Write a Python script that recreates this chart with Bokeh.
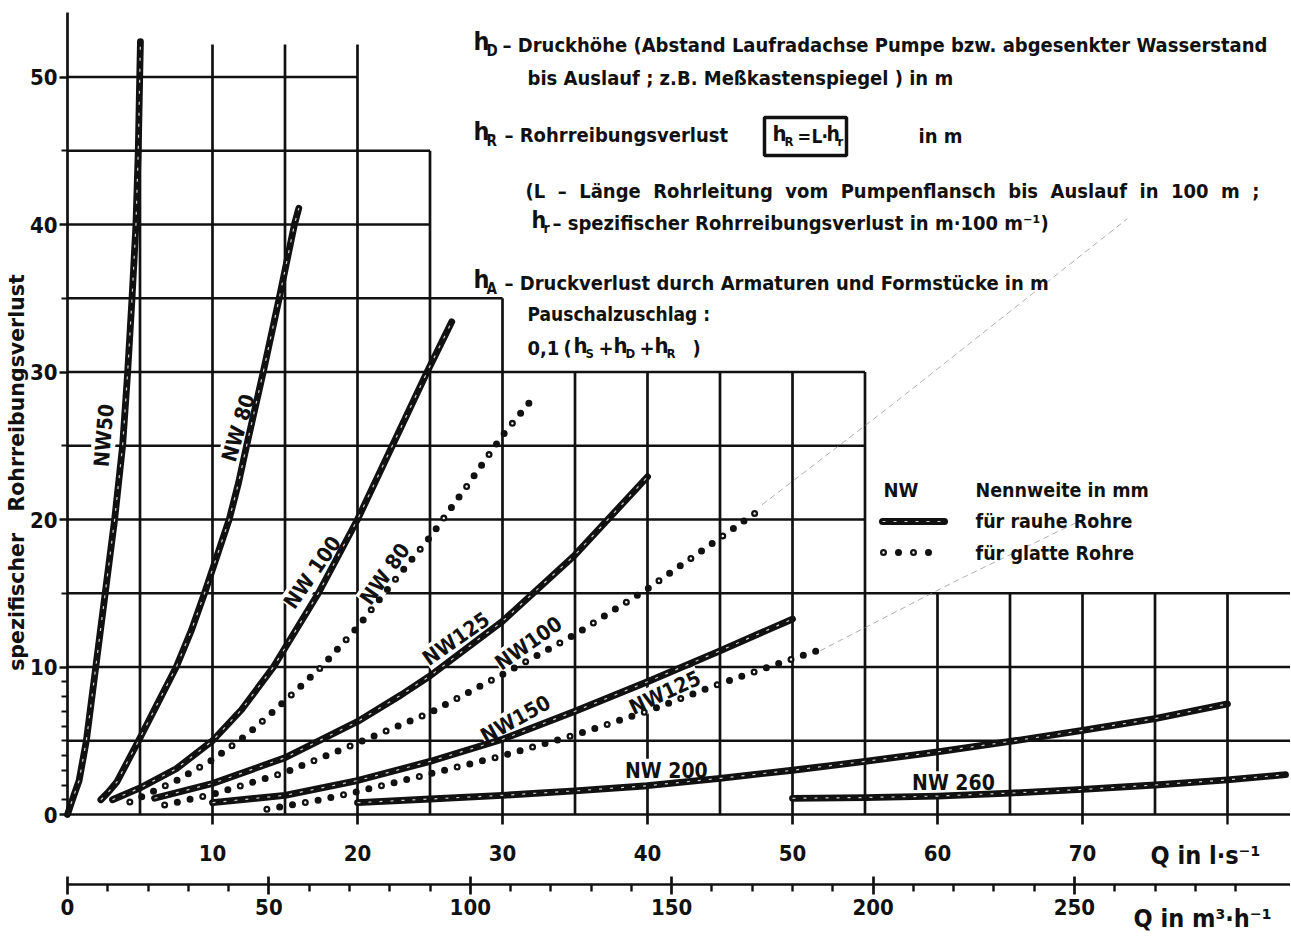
from bokeh.plotting import figure
from bokeh.models import Range1d, LinearAxis, FixedTicker, Label
from bokeh.embed import file_html
from bokeh.resources import INLINE

FONT = "'Liberation Sans Narrow', 'DejaVu Sans Condensed', 'Arial Narrow', sans-serif"
NB = "\u00a0"

# ---------------- data (Q in l/s, h in m per 100 m) ----------------
nw50_rough_q = [0, 0.25, 0.55, 0.8, 1.3, 1.95, 2.6, 3.25, 3.8, 4.15, 4.45, 4.72, 4.88, 4.98, 5.03]
nw50_rough_h = [0, 0.75, 1.6, 2.3, 5, 10, 15, 20, 25, 30, 35, 40, 45, 50, 52.4]

nw80_rough_q = [2.3, 2.8, 3.4, 4.9, 6.2, 7.5, 8.55, 9.45, 11.15, 11.8, 12.35, 13.5, 14.6, 15.65, 15.95]
nw80_rough_h = [1.0, 1.5, 2.2, 5, 7.5, 10, 12.5, 15, 20, 22.5, 25, 30, 35, 40, 41.1]

nw100_rough_q = [3.1, 5, 7.5, 10, 12, 14.2, 17.3, 20, 22.4, 24.8, 26.5]
nw100_rough_h = [1.0, 1.8, 3.1, 5, 7.1, 10, 15, 20, 25, 30, 33.4]

nw125_rough_q = [6.0, 10, 15, 20, 23, 25, 30, 35, 40]
nw125_rough_h = [1.1, 2.1, 3.85, 6.3, 8.1, 9.4, 13.1, 17.6, 22.9]

nw150_rough_q = [10, 15, 20, 25, 30, 35, 40, 45, 50]
nw150_rough_h = [0.8, 1.3, 2.3, 3.6, 5.1, 7.0, 9.0, 11.1, 13.25]

nw200_rough_q = [20, 25, 30, 35, 40, 45, 50, 55, 60, 65, 70, 75, 80]
nw200_rough_h = [0.8, 1.05, 1.3, 1.6, 1.95, 2.45, 3.0, 3.6, 4.25, 4.95, 5.7, 6.5, 7.5]

nw260_rough_q = [50, 55, 60, 65, 70, 75, 80, 84]
nw260_rough_h = [1.1, 1.15, 1.25, 1.45, 1.7, 2.0, 2.35, 2.7]

nw80_smooth_q = [4.3, 5, 7.5, 10, 12.5, 15, 17.5, 20, 22.5, 25, 27.5, 30, 32]
nw80_smooth_h = [0.85, 1.15, 2.3, 3.7, 5.5, 7.7, 10.0, 12.7, 15.8, 18.8, 22.2, 25.7, 28.1]

nw100_smooth_q = [6.7, 10, 15, 20, 25, 30, 35, 40, 45, 47.8]
nw100_smooth_h = [0.65, 1.36, 2.85, 4.85, 6.9, 9.5, 12.2, 15.3, 18.75, 20.7]

nw125_smooth_q = [13.75, 15, 17.5, 20, 22.5, 25, 30, 35, 40, 45, 50, 52.3]
nw125_smooth_h = [0.36, 0.58, 1.0, 1.55, 2.15, 2.76, 3.98, 5.4, 7.0, 8.87, 10.55, 11.3]

# faint pencil extensions seen on the sheet
ext_a_q = [47.9, 56.9, 73.1]
ext_a_h = [21.0, 27.8, 40.4]
ext_b_q = [51.9, 61.2, 69.6]
ext_b_h = [11.1, 15.8, 19.8]

rough_series = [(nw50_rough_q, nw50_rough_h), (nw80_rough_q, nw80_rough_h),
                (nw100_rough_q, nw100_rough_h), (nw125_rough_q, nw125_rough_h),
                (nw150_rough_q, nw150_rough_h), (nw200_rough_q, nw200_rough_h),
                (nw260_rough_q, nw260_rough_h)]
smooth_series = [(nw80_smooth_q, nw80_smooth_h), (nw100_smooth_q, nw100_smooth_h),
                 (nw125_smooth_q, nw125_smooth_h)]

curve_label_text = ["NW50", "NW 80", "NW 100", "NW 80", "NW125", "NW100", "NW150", "NW125", "NW 200", "NW 260"]
curve_label_q = [2.53, 11.8, 16.9, 21.9, 26.8, 31.8, 30.9, 41.2, 41.3, 61.1]
curve_label_h = [25.7, 26.2, 16.4, 16.3, 11.9, 11.6, 6.45, 8.25, 2.96, 2.12]
curve_label_angle = [85, 73, 55, 55, 35, 35, 29, 25, 0, 0]

# stepped grid of the nomogram
grid_h = [5, 10, 15, 20, 25, 30, 35, 40, 45, 50]
grid_h_end = [86, 86, 86, 55, 55, 55, 30, 25, 25, 20]
grid_q = [5, 10, 15, 20, 25, 30, 35, 40, 45, 50, 55, 60, 65, 70, 75, 80]
grid_q_top = [52.2, 52.2, 52.2, 52.2, 45, 35, 30, 30, 30, 30, 30, 15, 15, 15, 15, 15]
y_axis_top = 54.4

x_ticks = [10, 20, 30, 40, 50, 60, 70]
x_minor = [80]
y_ticks = [0, 10, 20, 30, 40, 50]
y_minor = [1, 2, 3, 4, 5, 6, 7, 8, 9, 15, 25, 35, 45]
m3h_ticks = [0, 50, 100, 150, 200, 250]
m3h_minor = [v for v in range(10, 300, 10) if v % 50]
M3H_PER_LS = 3.6

# ---------------- figure: frame covers the whole canvas ----------------
W, H = 1290, 940
X0, SX = 67.0, 14.5     # pixel of Q = 0, pixels per l/s
Y0, SY = 814.0, 14.75   # pixel of h = 0, pixels per m
XS, XE = -X0 / SX, (W - X0) / SX
YS, YE = -(H - Y0) / SY, Y0 / SY


def P(px, py):
    return (px - X0) / SX, (Y0 - py) / SY


p = figure(width=W, height=H, x_range=Range1d(XS, XE), y_range=Range1d(YS, YE),
           output_backend="svg", toolbar_location=None,
           min_border_left=0, min_border_right=0, min_border_top=0, min_border_bottom=0)
p.grid.visible = False
p.outline_line_color = None
p.background_fill_color = "white"
p.border_fill_color = "white"

INK = "#111111"

# grid
r = p.segment(x0=[0] * len(grid_h), y0=grid_h, x1=grid_h_end, y1=grid_h,
              line_color=INK, line_width=2.7)
r.level = "underlay"
r = p.segment(x0=grid_q, y0=[0] * len(grid_q), x1=grid_q, y1=grid_q_top,
              line_color=INK, line_width=2.7)
r.level = "underlay"

# faint extensions
for q, h in [(ext_a_q, ext_a_h), (ext_b_q, ext_b_h)]:
    p.line(q, h, line_color="#8a8a8a", line_width=1, line_dash="6 4", line_alpha=0.7)

# rough pipes: thick line with light core
for q, h in rough_series:
    p.line(q, h, line_color=INK, line_width=6.8, line_cap="round", line_join="round")
    p.line(q, h, line_color="white", line_width=1.2, line_dash="3 8", line_alpha=0.8)

# smooth pipes: dotted
for q, h in smooth_series:
    p.line(q, h, line_color=INK, line_width=7, line_cap="round", line_dash="0 13")
    p.line(q, h, line_color="white", line_width=2.4, line_cap="round", line_dash="0 39")


def T(s, px, py, size=20, align="left", angle=0, font=FONT):
    x, y = P(px, py)
    p.add_layout(Label(x=x, y=y, text=s, text_font=font, text_font_size=f"{size}px",
                       text_font_style="bold", text_color=INK, text_align=align,
                       text_baseline="middle", angle=angle, angle_units="deg"))


# curve labels (white ground interrupts the grid, as on the sheet)
for s, q, h, a in zip(curve_label_text, curve_label_q, curve_label_h, curve_label_angle):
    p.add_layout(Label(x=q, y=h, text=s, text_font=FONT, text_font_size="21px",
                       text_font_style="bold", text_color=INK, text_align="center",
                       text_baseline="middle", angle=a, angle_units="deg",
                       background_fill_color="white", level="underlay"))


def style_axis(ax, size="22px"):
    ax.axis_line_width = 2.7
    ax.axis_line_color = INK
    ax.major_tick_line_width = 2.7
    ax.minor_tick_line_width = 2.4
    ax.major_tick_line_color = INK
    ax.minor_tick_line_color = INK
    ax.major_label_text_font = FONT
    ax.major_label_text_font_size = size
    ax.major_label_text_font_style = "bold"
    ax.major_label_text_color = INK


# Q axis in l/s, on the h = 0 line
xa = p.xaxis[0]
xa.ticker = FixedTicker(ticks=x_ticks, minor_ticks=x_minor)
xa.fixed_location = 0
xa.bounds = (0, XE)
xa.major_tick_out = 10
xa.major_tick_in = 0
xa.minor_tick_out = 10
xa.minor_tick_in = 0
style_axis(xa)
xa.major_label_standoff = 20

# h axis
ya = p.yaxis[0]
ya.ticker = FixedTicker(ticks=y_ticks, minor_ticks=y_minor)
ya.fixed_location = 0
ya.bounds = (0, y_axis_top)
ya.major_tick_out = 8
ya.major_tick_in = 0
ya.minor_tick_out = 6
ya.minor_tick_in = 0
style_axis(ya)
ya.minor_tick_line_width = 2.2
ya.major_label_standoff = 2

# Q axis in m3/h
p.extra_x_ranges = {"m3h": Range1d(XS * M3H_PER_LS, XE * M3H_PER_LS)}
ax2 = LinearAxis(x_range_name="m3h", ticker=FixedTicker(ticks=m3h_ticks, minor_ticks=m3h_minor))
ax2.fixed_location = P(0, 884)[1]
ax2.bounds = (0, XE * M3H_PER_LS)
ax2.major_tick_in = 8
ax2.major_tick_out = 10
ax2.minor_tick_in = 0
ax2.minor_tick_out = 7
style_axis(ax2)
ax2.major_label_standoff = 4
p.add_layout(ax2, "below")

# axis titles
T("Q in l·s⁻¹", 1150, 855, 25)
T("Q in m³·h⁻¹", 1133, 918, 25)
T("spezifischer" + NB + NB + " Rohrreibungsverlust", 16, 472, 20.5, align="center", angle=90,
  font="'DejaVu Sans', sans-serif")

# explanatory text block
T("h", 473, 41, 25)
T("D", 486, 50, 15)
T("– Druckhöhe (Abstand Laufradachse Pumpe bzw. abgesenkter Wasserstand", 502, 44)
T("bis Auslauf ; z.B. Meßkastenspiegel ) in m", 527, 77)
T("h", 473, 131, 25)
T("R", 486, 140, 15)
T("– Rohrreibungsverlust", 504, 134)
bl, bt = P(764, 117)
br, bb = P(846, 155)
p.quad(left=[bl], right=[br], top=[bt], bottom=[bb], fill_color=None, line_color=INK, line_width=3.5)
T("h", 772, 133, 22)
T("R", 784, 141, 13)
T("=", 797, 136, 18)
T("L", 811, 135, 19)
T("·", 821, 135, 19)
T("h", 826, 133, 21)
T("r", 837, 141, 13)
T("in m", 918, 135)
line4 = "(L – Länge Rohrleitung vom Pumpenflansch bis Auslauf in 100 m ;"
T(line4.replace(" ", NB + " "), 525, 190)
T("h", 531, 219, 23)
T("r", 543, 227, 14)
T("– spezifischer Rohrreibungsverlust in m·100 m⁻¹)", 552, 222)
T("h", 473, 279, 25)
T("A", 486, 288, 15)
T("– Druckverlust durch Armaturen und Formstücke in m", 504, 282)
T("Pauschalzuschlag :", 527, 313, 19)
T("0,1", 527, 347)
T("(", 563, 347)
T("h", 573, 345, 22)
T("S", 585, 353, 13)
T("+", 598, 347)
T("h", 613, 345, 22)
T("D", 625, 353, 13)
T("+", 639, 347)
T("h", 654, 345, 22)
T("R", 666, 353, 13)
T(")", 692, 347)

# legend
T("NW", 883, 489, 20)
T("Nennweite in mm", 975, 490, 19.5)
T("für rauhe Rohre", 975, 521, 19.5)
T("für glatte Rohre", 975, 553, 19.5)
lx0, ly1 = P(882, 521)
lx1, _ = P(944, 521)
p.line([lx0, lx1], [ly1, ly1], line_color=INK, line_width=7, line_cap="round")
p.line([lx0, lx1], [ly1, ly1], line_color="white", line_width=1.2, line_dash="3 8", line_alpha=0.8)
dx0, ly2 = P(883, 552)
dx1, _ = P(943, 552)
p.line([dx0, dx1], [ly2, ly2], line_color=INK, line_width=7, line_cap="round", line_dash="0 15")
p.line([dx0, dx1], [ly2, ly2], line_color="white", line_width=2.4, line_cap="round", line_dash="0 30")

open("out.html", "w").write(file_html(p, INLINE))
